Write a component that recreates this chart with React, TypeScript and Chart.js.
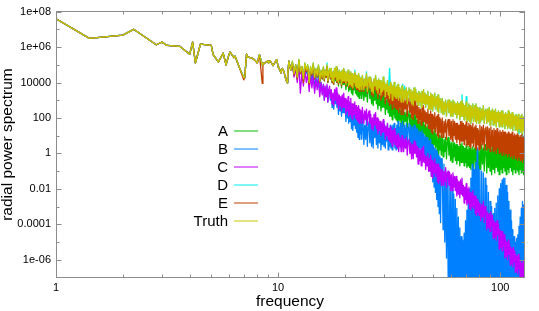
import { useEffect, useRef } from 'react';
import { Chart, registerables } from 'chart.js';

Chart.register(...registerables);

// ---- data (power values stored as log10) ----
// exact radial frequencies at the low end
const freqLow = [1, 1.414, 2, 2.236, 2.828, 3, 3.162, 3.606, 4, 4.123,
  4.243, 4.472, 5, 5.099, 5.385, 5.657, 5.831, 6, 6.083, 6.325,
  6.403, 6.708, 7, 7.071, 7.211, 7.28, 7.616, 7.81, 8, 8.062,
  8.246, 8.485, 8.544, 8.602, 8.944, 9, 9.055, 9.22, 9.434, 9.487,
  9.849, 9.899, 10, 10.05, 10.198, 10.296, 10.44, 10.63, 10.77, 10.817,
  11, 11.045, 11.18, 11.314, 11.402];

const freqHigh = [
  11.6, 11.8, 12, 12.2, 12.4, 12.6, 12.8, 13, 13.2, 13.4, 13.6, 13.8, 14, 14.2, 14.4, 14.6, 14.8, 15, 15.2, 15.4, 15.6, 15.8,
  16, 16.15, 16.3, 16.45, 16.6, 16.75, 16.9, 17.05, 17.2, 17.35, 17.5, 17.65, 17.8, 17.95, 18.1, 18.25, 18.4, 18.55, 18.7, 18.85, 19, 19.15, 19.3, 19.45, 19.6, 19.75, 19.9, 20.05, 20.2, 20.35, 20.5, 20.65, 20.8, 20.95, 21.1, 21.25, 21.4, 21.55, 21.7, 21.85, 22, 22.15, 22.3, 22.45, 22.6, 22.75, 22.9, 23.05, 23.2, 23.35, 23.5, 23.65, 23.8, 23.95,
  24.1, 24.33, 24.55, 24.78, 25, 25.23, 25.45, 25.68, 25.9, 26.13, 26.35, 26.58, 26.8, 27.03, 27.25, 27.48, 27.7, 27.93, 28.15, 28.38, 28.6, 28.83, 29.05, 29.28, 29.5, 29.73, 29.95, 30.18, 30.4, 30.63, 30.85, 31.08, 31.3, 31.53, 31.75, 31.98, 32.2, 32.43, 32.65, 32.88, 33.1, 33.33, 33.55, 33.78, 34, 34.23, 34.45, 34.68, 34.9, 35.13, 35.35, 35.58, 35.8, 36.1,
  36.4, 36.75, 37.1, 37.45, 37.8, 38.15, 38.5, 38.85, 39.2, 39.55, 39.9, 40.25, 40.6, 40.95, 41.3, 41.65, 42, 42.35, 42.7, 43.05, 43.4, 43.75, 44.1, 44.45, 44.8, 45.15, 45.5, 45.85, 46.2, 46.55, 46.9, 47.25, 47.6, 47.95, 48.3, 48.65, 49, 49.35, 49.7, 50.05, 50.4, 50.75, 51.1, 51.45, 51.8, 52.15, 52.5, 52.85, 53.2, 53.55, 53.9, 54.3,
  54.8, 55.3, 55.8, 56.3, 56.8, 57.3, 57.8, 58.3, 58.8, 59.3, 59.8, 60.3, 60.8, 61.3, 61.8, 62.3, 62.8, 63.3, 63.8, 64.3, 64.8, 65.3, 65.8, 66.3, 66.8, 67.3, 67.8, 68.3, 68.8, 69.3, 69.8, 70.3, 70.8, 71.3, 71.8, 72.3, 72.8, 73.3, 73.8, 74.3, 74.8, 75.3, 75.8, 76.3, 76.8, 77.3, 77.8, 78.3, 78.8, 79.3, 79.8, 80.3,
  81, 81.75, 82.5, 83.25, 84, 84.75, 85.5, 86.25, 87, 87.75, 88.5, 89.25, 90, 90.75, 91.5, 92.25, 93, 93.75, 94.5, 95.25, 96, 96.75, 97.5, 98.25, 99, 99.75, 100.5, 101.25, 102, 102.75, 103.5, 104.25, 105, 105.75, 106.5, 107.25, 108, 108.75, 109.5, 110.25, 111, 111.75, 112.5, 113.25, 114, 114.75, 115.5, 116.25, 117, 117.75, 118.5, 119.25, 120, 120.75, 121.5, 122.25, 123, 123.75, 124.5, 125.25, 126, 126.75, 127.5, 128];

// low-frequency part, where A-D and Truth coincide
const lowShared = [7.59, 6.49, 6.67, 7.0, 6.13, 6.28, 6.09, 6.04, 5.6, 6.28,
  5.1, 6.17, 6.09, 5.57, 5.16, 5.66, 5.0, 5.55, 5.72, 5.4,
  5.48, 4.82, 4.3, 4.26, 5.6, 5.45, 5.38, 5.29, 5.15, 5.1,
  5.57, 5.0, 5.1, 5.05, 5.2, 5.23, 5.1, 5.23, 5.0, 4.95,
  5.29, 5.2, 4.9, 4.82, 4.7, 4.54, 4.8, 4.6, 4.3, 4.2,
  3.98, 4.4, 5.2, 4.9, 4.7];

const lowE = [7.59, 6.49, 6.67, 7.0, 6.13, 6.28, 6.09, 6.04, 5.6, 6.28,
  5.1, 6.17, 6.09, 5.57, 5.16, 5.66, 5.0, 5.55, 5.72, 5.4,
  5.48, 4.82, 4.15, 4.26, 5.6, 5.45, 5.38, 5.29, 5.15, 5.1,
  5.57, 3.95, 5.1, 5.05, 5.2, 5.23, 5.1, 5.23, 5.0, 4.95,
  5.29, 5.2, 4.9, 4.82, 4.7, 4.54, 4.8, 4.6, 4.3, 4.2,
  3.98, 4.4, 5.2, 4.9, 4.7];

const hiA = [
  5.1, 4.5, 4.9, 4.2, 5.2, 4.5, 4.8, 4.1, 5.0, 4.6, 4.9, 3.9, 4.8, 4.4, 5.0, 4.2, 4.7, 4.3, 4.9, 4.0, 4.6, 4.2,
  4.8, 4.1, 4.6, 4.3, 4.9, 4.0, 4.5, 4.7, 4.2, 4.7, 4.0, 4.5, 3.9, 4.7, 4.1, 4.8, 4.0, 4.5, 3.8, 4.5, 4.0, 4.4, 3.7, 4.5, 3.9, 4.6, 3.9, 4.3, 3.6, 4.2, 3.8, 4.4, 3.5, 4.1, 3.6, 4.3, 3.4, 4.1, 3.3, 4.0, 3.6, 4.2, 3.4, 4.0, 3.3, 3.9, 3.2, 4.0, 3.1, 3.8, 3.3, 3.7, 3.1, 3.9,
  3.9, 3.0, 3.7, 3.2, 3.9, 2.9, 3.6, 3.8, 3.1, 3.6, 2.8, 3.4, 2.7, 3.6, 3.0, 3.7, 2.8, 3.4, 2.5, 3.4, 2.7, 3.3, 2.4, 3.2, 2.6, 3.4, 2.6, 3.1, 2.2, 3.0, 2.5, 3.2, 2.3, 2.9, 2.1, 3.0, 2.1, 2.8, 1.9, 2.8, 2.2, 2.9, 2.0, 2.7, 1.9, 2.6, 1.8, 2.7, 1.6, 2.5, 1.9, 2.4, 1.6, 2.6,
  2.5, 1.5, 2.3, 1.8, 2.4, 1.4, 2.2, 2.4, 1.6, 2.2, 1.2, 2.0, 1.2, 2.2, 1.4, 2.1, 1.3, 1.9, 1.0, 1.9, 1.1, 1.8, 0.9, 1.9, 1.1, 2.0, 1.1, 1.6, 0.6, 1.5, 0.9, 1.7, 0.6, 1.4, 0.6, 1.6, 0.3, 1.3, 0.2, 1.2, 0.5, 1.4, 0.3, 1.1, 1.1, 0.0, 1.2, -0.1, 1.0, 0.2, 0.9, -0.1,
  1.0, -0.2, 0.8, 0.1, 0.9, -0.3, 0.7, 0.9, -0.1, 0.7, -0.4, 0.6, -0.5, 0.7, -0.2, 0.6, -0.4, 0.5, -0.6, 0.5, -0.4, 0.4, -0.7, 0.5, -0.5, 0.6, -0.5, 0.4, -0.7, 0.3, -0.5, 0.5, -0.8, 0.2, -0.7, 0.4, -0.8, 0.3, -0.9, 0.2, -0.6, 0.4, -0.8, 0.2, 0.3, -0.9, 0.4, -1.0, 0.2, -0.7, 0.1, -0.9,
  0.4, -0.9, 0.5, -0.6, 0.3, -1.0, 0.5, 0.2, -1.1, 0.4, -0.8, 0.5, -1.0, 0.3, -1.2, 0.4, -0.9, 0.5, -1.1, 0.4, -0.8, 0.6, -1.0, 0.3, -1.2, 0.4, -0.9, 0.5, -1.1, 0.3, -0.8, 0.5, -1.0, 0.4, -1.2, 0.6, -0.9, 0.3, -1.1, 0.4, -0.8, 0.5, -1.0, 0.4, -1.2, 0.5, -0.9, 0.3, -1.1, 0.5, -0.9, 0.6, -1.0, 0.3, -1.2, 0.4, -0.9, 0.5, -1.1, 0.4, -1.0, 0.6, -1.2, 0.3];

const hiB = [
  5.1, 4.4, 5.0, 4.2, 5.2, 4.5, 4.8, 4.1, 5.0, 4.5, 4.8, 3.8, 4.6, 4.1, 4.7, 3.6, 4.3, 3.8, 4.4, 3.4, 4.0, 3.5,
  3.9, 3.0, 3.7, 3.2, 3.8, 2.9, 3.5, 3.6, 3.0, 3.4, 2.6, 3.2, 2.5, 3.4, 2.8, 3.5, 2.6, 3.2, 2.2, 3.0, 2.4, 2.9, 2.1, 3.1, 2.3, 3.1, 2.3, 2.8, 1.8, 2.6, 2.0, 2.8, 1.7, 2.5, 1.8, 2.7, 1.4, 2.4, 1.3, 2.3, 1.6, 2.5, 1.4, 2.2, 1.2, 2.1, 0.9, 2.2, 0.8, 2.0, 1.1, 1.9, 0.8, 2.0,
  1.9, 0.5, 1.6, 0.8, 2.0, 0.4, 1.5, 1.8, 0.6, 1.8, 0.4, 1.5, 0.3, 1.7, 0.9, 1.9, 0.5, 1.4, 0.3, 1.7, 0.6, 1.6, 0.2, 1.5, 0.5, 1.8, 0.4, 1.6, 0.3, 1.5, 0.7, 1.7, 0.2, 1.4, 0.4, 1.6, 0.3, 1.5, 0.2, 1.6, 0.6, 1.7, 0.3, 1.4, 0.2, 1.6, 0.4, 1.8, 0.2, 1.5, 0.5, 1.7, 0.3, 1.6,
  1.8, 0.4, 1.6, 0.7, 1.7, 0.3, 1.5, 1.7, 0.5, 1.6, 0.3, 1.5, 0.2, 1.6, 0.6, 1.5, 0.3, 1.4, 0.1, 1.3, 0.3, 1.2, -0.1, 1.3, 0.2, 1.1, -0.2, 1.0, -0.5, 0.9, -0.3, 0.9, -0.8, 0.7, -1.0, 0.8, -1.3, 0.5, -1.6, 0.4, -1.9, 0.3, -2.2, 0.2, -2.6, 0.1, -3.0, -0.1, -3.4, -0.2, -3.9, -0.3,
  -0.3, -4.3, -0.6, -5.0, -0.9, -5.9, -1.1, -7.0, -1.3, -9, -1.6, -9, -2.0, -9, -2.3, -9, -2.6, -9, -3.1, -9, -3.6, -9, -4.2, -9, -4.7, -9, -4.9, -9, -4.5, -9, -3.8, -9, -3.2, -9, -2.6, -9, -2.0, -9, -1.4, -9, -0.6, -9, -0.8, -9, -0.9, -9, -0.5, -9, 0.3, -9, -0.7, -9,
  -0.9, -9, -1.0, -9, -1.1, -9, -1.4, -9, -1.8, -9, -2.2, -9, -2.7, -9, -3.0, -9, -3.4, -9, -3.1, -9, -2.8, -9, -2.4, -9, -2.0, -9, -1.7, -9, -1.5, -9, -1.4, -9, -1.4, -9, -1.8, -9, -2.2, -9, -2.7, -9, -3.2, -9, -3.8, -9, -4.3, -9, -4.7, -9, -5.0, -9, -4.8, -9, -4.6, -9, -4.1, -9, -3.6, -9, -3.1, -9, -2.7, -9, -2.9, -9];

const hiC = [
  5.0, 4.3, 4.8, 4.0, 5.0, 3.4, 4.6, 3.8, 4.7, 4.0, 4.5, 3.5, 4.4, 3.7, 4.4, 3.4, 4.2, 3.6, 4.2, 3.2, 4.0, 3.3,
  3.9, 3.0, 3.8, 3.2, 3.9, 2.9, 3.6, 3.8, 3.1, 3.6, 2.8, 3.4, 2.7, 3.6, 3.0, 3.7, 2.8, 3.4, 2.5, 3.3, 2.7, 3.2, 2.4, 3.3, 2.6, 3.4, 2.6, 3.1, 2.2, 3.0, 2.4, 3.2, 2.1, 2.9, 2.2, 3.1, 2.0, 2.8, 1.9, 2.8, 2.2, 2.9, 2.0, 2.7, 1.9, 2.6, 1.8, 2.7, 1.7, 2.5, 1.9, 2.4, 1.7, 2.6,
  2.6, 1.7, 2.4, 1.9, 2.5, 1.6, 2.2, 2.4, 1.7, 2.2, 1.4, 2.0, 1.3, 2.2, 1.6, 2.3, 1.4, 2.0, 1.1, 1.9, 1.3, 1.8, 1.0, 1.7, 1.2, 1.9, 1.2, 1.6, 0.8, 1.5, 1.0, 1.7, 0.8, 1.4, 0.7, 1.5, 0.6, 1.3, 0.4, 1.3, 0.7, 1.4, 0.5, 1.2, 0.4, 1.0, 0.3, 1.1, 0.1, 0.9, 0.4, 0.8, 0.1, 1.0,
  1.0, 0.1, 0.8, 0.3, 0.9, -0.1, 0.7, 0.8, 0.0, 0.6, -0.3, 0.5, -0.3, 0.7, 0.0, 0.6, -0.2, 0.4, -0.6, 0.3, -0.4, 0.2, -0.7, 0.3, -0.5, 0.4, -0.5, -0.1, -0.9, -0.2, -0.7, 0.0, -1.0, -0.3, -1.0, -0.1, -1.3, -0.4, -1.4, -0.5, -1.1, -0.3, -1.3, -0.6, -0.7, -1.6, -0.6, -1.7, -0.8, -1.5, -0.9, -1.8,
  -0.9, -1.8, -1.0, -1.6, -0.8, -1.9, -1.1, -1.0, -1.8, -1.1, -2.1, -1.2, -2.1, -1.1, -1.9, -1.3, -2.1, -1.3, -2.4, -1.5, -2.3, -1.6, -2.5, -1.5, -2.3, -1.4, -2.4, -1.8, -2.8, -1.9, -2.6, -1.7, -2.9, -2.0, -2.8, -1.9, -3.1, -2.2, -3.2, -2.3, -3.0, -2.1, -3.1, -2.4, -2.5, -3.4, -2.4, -3.5, -2.6, -3.3, -2.7, -3.5,
  -2.8, -3.8, -2.9, -3.6, -2.7, -3.9, -3.0, -3.1, -4.3, -3.3, -4.2, -3.4, -4.4, -3.3, -4.1, -3.5, -4.8, -3.8, -4.7, -3.9, -4.9, -3.8, -4.6, -4.0, -5.4, -4.3, -5.3, -4.4, -5.5, -4.4, -5.2, -4.6, -5.9, -4.9, -5.8, -5.0, -6.0, -4.9, -5.7, -5.1, -6.3, -5.3, -6.2, -5.4, -6.4, -5.3, -6.1, -5.5, -6.7, -5.7, -6.6, -5.8, -6.8, -5.7, -6.5, -5.9, -7.2, -6.1, -7.1, -6.2, -7.3, -6.1, -7.0, -6.3];

const hiD = [
  5.2, 4.5, 5.0, 4.3, 5.3, 4.6, 4.9, 4.2, 5.1, 4.7, 5.0, 4.0, 4.9, 4.5, 5.1, 4.3, 4.8, 4.4, 5.0, 4.1, 4.7, 4.3,
  4.9, 4.2, 4.7, 4.4, 5.1, 4.1, 4.6, 4.8, 4.3, 4.8, 4.1, 4.6, 4.0, 4.8, 4.3, 4.9, 4.1, 4.6, 4.0, 4.7, 4.2, 4.6, 3.9, 4.7, 4.1, 4.8, 4.1, 4.6, 3.9, 4.5, 4.1, 4.7, 3.8, 4.4, 3.9, 4.6, 3.8, 4.5, 3.7, 4.4, 4.0, 4.7, 3.8, 4.4, 3.7, 4.4, 3.7, 4.5, 3.6, 4.3, 3.8, 4.2, 3.6, 4.4,
  4.4, 3.6, 4.2, 3.8, 4.6, 3.5, 4.1, 4.3, 3.7, 4.3, 3.5, 4.0, 3.4, 4.2, 3.8, 4.4, 3.6, 4.1, 3.4, 4.2, 3.7, 4.1, 3.3, 4.0, 3.5, 4.3, 3.6, 4.0, 3.2, 3.9, 3.5, 4.1, 3.3, 3.8, 4.8, 4.0, 3.4, 3.9, 3.0, 3.8, 3.3, 4.0, 3.2, 3.7, 3.1, 3.8, 3.2, 3.9, 3.0, 3.7, 3.3, 3.6, 2.9, 3.8,
  3.9, 2.9, 3.8, 3.1, 3.7, 2.8, 3.5, 3.7, 3.0, 3.6, 2.8, 3.5, 2.7, 3.7, 3.0, 3.6, 2.9, 3.4, 2.7, 3.5, 2.9, 3.4, 2.6, 3.5, 2.8, 3.6, 2.8, 3.4, 2.6, 3.3, 2.8, 3.5, 2.5, 3.2, 2.5, 3.4, 2.5, 3.3, 2.4, 3.2, 2.7, 3.4, 2.5, 3.1, 3.2, 2.4, 3.3, 2.3, 3.1, 2.6, 3.0, 2.3,
  3.1, 2.2, 2.9, 2.4, 3.0, 2.1, 2.8, 3.0, 2.3, 3.0, 2.1, 2.9, 2.1, 3.0, 2.3, 2.9, 2.2, 2.8, 2.0, 2.9, 2.2, 2.8, 1.9, 2.9, 2.1, 3.3, 2.1, 2.8, 1.9, 2.7, 2.1, 3.2, 1.8, 2.6, 1.9, 2.8, 1.8, 2.7, 1.7, 2.6, 2.0, 2.8, 1.8, 2.5, 2.7, 1.8, 2.8, 1.7, 2.6, 1.9, 2.5, 1.7,
  2.6, 1.8, 2.5, 1.9, 2.7, 1.7, 2.4, 2.5, 1.7, 2.5, 1.8, 2.6, 1.6, 2.4, 1.9, 2.5, 1.6, 2.4, 1.7, 2.5, 1.5, 2.3, 1.8, 2.4, 1.5, 2.3, 1.6, 2.4, 1.5, 2.4, 1.7, 2.2, 1.4, 2.3, 1.6, 2.2, 1.4, 2.4, 1.5, 2.3, 1.4, 2.2, 1.5, 2.3, 1.3, 2.2, 1.6, 2.1, 1.3, 2.2, 1.4, 2.1, 1.2, 2.2, 1.1, 2.0, 1.2, 2.1, 1.3, 2.2, 0.7, 2.0, 1.3, 2.1];

const hiE = [
  5.1, 4.4, 5.0, 4.2, 5.2, 4.5, 4.9, 4.0, 5.0, 4.6, 4.9, 3.9, 4.8, 4.4, 5.0, 4.2, 4.7, 4.3, 4.9, 4.0, 4.6, 4.2,
  4.8, 4.1, 4.7, 4.3, 4.9, 4.0, 4.5, 4.7, 4.2, 4.7, 4.0, 4.5, 3.9, 4.7, 4.2, 4.8, 4.0, 4.5, 3.9, 4.6, 4.1, 4.5, 3.8, 4.6, 4.0, 4.7, 4.0, 4.5, 3.8, 4.4, 4.0, 4.6, 3.7, 4.3, 3.8, 4.5, 3.7, 4.4, 3.6, 4.3, 3.9, 4.5, 3.7, 4.3, 3.6, 4.3, 3.6, 4.4, 3.5, 4.2, 3.7, 4.1, 3.5, 4.3,
  4.3, 3.5, 4.1, 3.7, 4.4, 3.4, 4.0, 4.2, 3.6, 4.2, 3.3, 3.9, 3.2, 4.1, 3.6, 4.2, 3.4, 3.9, 3.1, 4.0, 3.4, 3.9, 3.0, 3.8, 3.2, 4.0, 3.3, 3.7, 2.8, 3.6, 3.1, 3.8, 2.9, 3.5, 2.7, 3.6, 2.8, 3.5, 2.5, 3.4, 2.8, 3.6, 2.6, 3.3, 2.5, 3.3, 2.5, 3.4, 2.3, 3.1, 2.6, 3.0, 2.2, 3.2,
  3.2, 2.2, 3.0, 2.5, 3.1, 2.1, 2.9, 3.1, 2.3, 2.9, 2.0, 2.8, 1.9, 3.0, 2.2, 2.9, 2.0, 2.7, 1.7, 2.6, 1.9, 2.5, 1.6, 2.6, 1.8, 2.7, 1.8, 2.4, 1.5, 2.3, 1.7, 2.5, 1.4, 2.2, 1.4, 2.4, 1.2, 2.2, 1.1, 2.1, 1.4, 2.3, 1.2, 2.0, 2.1, 1.0, 2.2, 0.9, 2.0, 1.2, 1.9, 0.9,
  2.0, 0.9, 1.8, 1.2, 1.9, 0.8, 1.7, 1.9, 1.0, 1.9, 0.8, 1.8, 0.7, 1.9, 1.0, 1.8, 0.8, 1.7, 0.6, 1.7, 0.8, 1.6, 0.5, 1.8, 0.7, 1.8, 0.7, 1.7, 0.5, 1.6, 0.8, 1.8, 0.4, 1.5, 0.5, 1.7, 0.4, 1.6, 0.3, 1.5, 0.6, 1.7, 0.4, 1.4, 1.5, 0.3, 1.6, 0.2, 1.4, 0.5, 1.3, 0.2,
  1.6, 0.3, 1.5, 0.5, 1.6, 0.2, 1.4, 1.5, 0.2, 1.5, 0.3, 1.4, 0.1, 1.5, 0.4, 1.3, 0.1, 1.4, 0.2, 1.3, 0.0, 1.4, 0.3, 1.2, 0.0, 1.3, 0.1, 1.2, -0.1, 1.3, 0.1, 1.2, -0.1, 1.2, 0.0, 1.1, -0.2, 1.2, 0.0, 1.1, -0.2, 1.1, -0.1, 1.2, -0.3, 1.0, -0.1, 1.1, -0.3, 1.0, -0.2, 1.1, -0.4, 1.0, -0.2, 0.9, -0.4, 1.0, -0.3, 1.1, -0.5, 0.9, -0.3, 1.0];

const hiTruth = [
  5.2, 4.5, 5.0, 4.3, 5.3, 4.6, 4.9, 4.2, 5.1, 4.7, 5.0, 4.0, 4.9, 4.5, 5.1, 4.3, 4.8, 4.4, 5.0, 4.1, 4.7, 4.3,
  4.9, 4.2, 4.7, 4.4, 5.0, 4.1, 4.6, 4.8, 4.3, 4.8, 4.1, 4.6, 4.0, 4.8, 4.3, 4.9, 4.1, 4.6, 4.0, 4.7, 4.2, 4.6, 3.9, 4.7, 4.1, 4.8, 4.1, 4.6, 3.9, 4.5, 4.1, 4.7, 3.8, 4.4, 3.9, 4.6, 3.8, 4.5, 3.7, 4.4, 4.0, 4.6, 3.8, 4.4, 3.7, 4.4, 3.7, 4.5, 3.6, 4.3, 3.8, 4.2, 3.6, 4.4,
  4.4, 3.6, 4.2, 3.8, 4.5, 3.5, 4.1, 4.3, 3.7, 4.3, 3.5, 4.0, 3.4, 4.2, 3.8, 4.4, 3.6, 4.1, 3.4, 4.2, 3.7, 4.1, 3.3, 4.0, 3.5, 4.3, 3.6, 4.0, 3.2, 3.9, 3.5, 4.1, 3.3, 3.8, 3.1, 4.0, 3.4, 3.9, 3.0, 3.8, 3.3, 4.0, 3.2, 3.7, 3.1, 3.8, 3.2, 3.9, 3.0, 3.7, 3.3, 3.6, 2.9, 3.8,
  3.8, 2.9, 3.6, 3.1, 3.7, 2.8, 3.5, 3.7, 3.0, 3.6, 2.8, 3.5, 2.7, 3.7, 3.0, 3.6, 2.9, 3.4, 2.7, 3.5, 2.9, 3.4, 2.6, 3.5, 2.8, 3.6, 2.8, 3.4, 2.6, 3.3, 2.8, 3.5, 2.5, 3.2, 2.5, 3.4, 2.5, 3.3, 2.4, 3.2, 2.7, 3.4, 2.5, 3.1, 3.2, 2.4, 3.3, 2.3, 3.1, 2.6, 3.0, 2.3,
  3.1, 2.2, 2.9, 2.4, 3.0, 2.1, 2.8, 3.0, 2.3, 3.0, 2.1, 2.9, 2.1, 3.0, 2.3, 2.9, 2.2, 2.8, 2.0, 2.9, 2.2, 2.8, 1.9, 2.9, 2.1, 3.0, 2.1, 2.8, 1.9, 2.7, 2.1, 2.9, 1.8, 2.6, 1.9, 2.8, 1.8, 2.7, 1.7, 2.6, 2.0, 2.8, 1.8, 2.5, 2.7, 1.8, 2.8, 1.7, 2.6, 1.9, 2.5, 1.7,
  2.6, 1.8, 2.5, 1.9, 2.7, 1.7, 2.4, 2.5, 1.7, 2.5, 1.8, 2.6, 1.6, 2.4, 1.9, 2.5, 1.6, 2.4, 1.7, 2.5, 1.5, 2.3, 1.8, 2.4, 1.5, 2.3, 1.6, 2.4, 1.5, 2.4, 1.7, 2.2, 1.4, 2.3, 1.6, 2.2, 1.4, 2.4, 1.5, 2.3, 1.4, 2.2, 1.5, 2.3, 1.3, 2.2, 1.6, 2.1, 1.3, 2.2, 1.4, 2.1, 1.2, 2.2, 1.4, 2.0, 1.2, 2.1, 1.3, 2.2, 1.1, 2.0, 1.3, 2.1];

const seriesNames = ['A', 'B', 'C', 'D', 'E', 'Truth'];
const seriesColors = ['#00c000', '#0080ff', '#c000ff', '#00eeee', '#c04000', '#c8c800'];

const xTickValues = [1, 10, 100];
const xTickLabels = ['1', '10', '100'];
const xMinorTicks = [2, 3, 4, 5, 6, 7, 8, 9, 20, 30, 40, 50, 60, 70, 80, 90];
const yTickValues = [1e-6, 1e-4, 1e-2, 1, 1e2, 1e4, 1e6, 1e8];
const yTickLabels = ['1e-06', '0.0001', '0.01', '1', '100', '10000', '1e+06', '1e+08'];
const yMinorTicks = [1e-5, 1e-3, 1e-1, 1e1, 1e3, 1e5, 1e7];

// ---- build table ----
const freqAll = [...freqLow, ...freqHigh];
const seriesLogs = [
  [...lowShared, ...hiA],
  [...lowShared, ...hiB],
  [...lowShared, ...hiC],
  [...lowShared, ...hiD],
  [...lowE, ...hiE],
  [...lowShared, ...hiTruth],
];

const W = 539;
const H = 311;
const FONT = 'Liberation Sans, Arial, sans-serif';

const framePlugin = {
  id: 'gnuFrame',
  afterDraw(chart: any) {
    const { ctx, chartArea, scales } = chart;
    const xs = scales.x;
    const ys = scales.y;
    const x0 = Math.round(chartArea.left) + 0.5;
    const x1 = Math.round(chartArea.right) + 0.5;
    const y0 = Math.round(chartArea.top) - 0.5;
    const y1 = Math.round(chartArea.bottom) - 0.5;
    ctx.save();
    ctx.strokeStyle = '#8c8c8c';
    ctx.lineWidth = 1;
    ctx.beginPath();
    const yTick = (v: number, len: number) => {
      const py = Math.round(ys.getPixelForValue(v)) + 0.5;
      ctx.moveTo(x0, py); ctx.lineTo(x0 + len, py);
      ctx.moveTo(x1, py); ctx.lineTo(x1 - len, py);
    };
    const xTick = (v: number, len: number) => {
      const px = Math.round(xs.getPixelForValue(v)) + 0.5;
      ctx.moveTo(px, y1); ctx.lineTo(px, y1 - len);
      ctx.moveTo(px, y0); ctx.lineTo(px, y0 + len);
    };
    yTickValues.forEach((v) => yTick(v, 5));
    yMinorTicks.forEach((v) => yTick(v, 3));
    xTickValues.forEach((v) => xTick(v, 5));
    xMinorTicks.forEach((v) => xTick(v, 3));
    ctx.stroke();
    ctx.strokeRect(x0, y0, x1 - x0, y1 - y0);

    // legend (text left of sample line)
    ctx.font = `15px ${FONT}`;
    ctx.textAlign = 'right';
    ctx.textBaseline = 'alphabetic';
    chart.data.datasets.forEach((ds: any, i: number) => {
      const yy = 131 + 18 * i;
      ctx.fillStyle = '#000';
      ctx.fillText(ds.label, 228, yy + 5);
      ctx.strokeStyle = ds.borderColor;
      ctx.lineWidth = 1;
      ctx.beginPath();
      ctx.moveTo(234, yy);
      ctx.lineTo(258, yy);
      ctx.stroke();
    });
    ctx.restore();
  },
};

export default function App() {
  const ref = useRef<HTMLCanvasElement>(null);
  useEffect(() => {
    if (!ref.current) return;
    const datasets = seriesNames.map((name, i) => ({
      label: name,
      data: seriesLogs[i].map((v, j) => ({ x: freqAll[j], y: Math.pow(10, v) })),
      borderColor: seriesColors[i],
      backgroundColor: seriesColors[i],
      borderWidth: 1.3,
      pointRadius: 0,
      tension: 0,
      fill: false,
      borderJoinStyle: 'round',
      order: seriesNames.length - 1 - i,
    }));
    const chart = new Chart(ref.current, {
      type: 'line',
      data: { datasets } as any,
      options: {
        responsive: false,
        animation: false,
        devicePixelRatio: 1,
        events: [],
        layout: { padding: { top: 10, right: 15, bottom: 0, left: 0 } },
        plugins: { legend: { display: false }, tooltip: { enabled: false } },
        scales: {
          x: {
            type: 'logarithmic',
            bounds: 'data',
            min: 1,
            max: 128,
            grid: { display: false, drawTicks: false },
            border: { display: false },
            afterBuildTicks: (s: any) => { s.ticks = xTickValues.map((v) => ({ value: v })); },
            afterFit: (s: any) => { s.height = 33.5; },
            ticks: {
              autoSkip: false, maxRotation: 0, padding: 3.4, color: '#000',
              font: { family: FONT, size: 11 },
              callback: (_v: any, i: number) => xTickLabels[i],
            },
            title: {
              display: true, text: 'frequency', color: '#000',
              font: { family: FONT, size: 15.5, lineHeight: 1 },
              padding: { top: 0, bottom: 1.7 },
            },
          },
          y: {
            type: 'logarithmic',
            bounds: 'data',
            min: 1e-7,
            max: 1e8,
            grid: { display: false, drawTicks: false },
            border: { display: false },
            afterBuildTicks: (s: any) => { s.ticks = yTickValues.map((v) => ({ value: v })); },
            afterFit: (s: any) => { s.width = 56; },
            ticks: {
              autoSkip: false, padding: 5, color: '#000',
              font: { family: FONT, size: 11 },
              callback: (_v: any, i: number) => yTickLabels[i],
            },
            title: {
              display: true, text: 'radial power spectrum', color: '#000',
              font: { family: FONT, size: 15.5, lineHeight: 1 },
              padding: { top: 0, bottom: 0 },
            },
          },
        },
      } as any,
      plugins: [framePlugin],
    });
    return () => chart.destroy();
  }, []);
  return (
    <div style={{ position: 'fixed', left: 0, top: 0, width: W, height: H, background: '#fff' }}>
      <canvas ref={ref} width={W} height={H} style={{ display: 'block', width: W, height: H }} />
    </div>
  );
}
